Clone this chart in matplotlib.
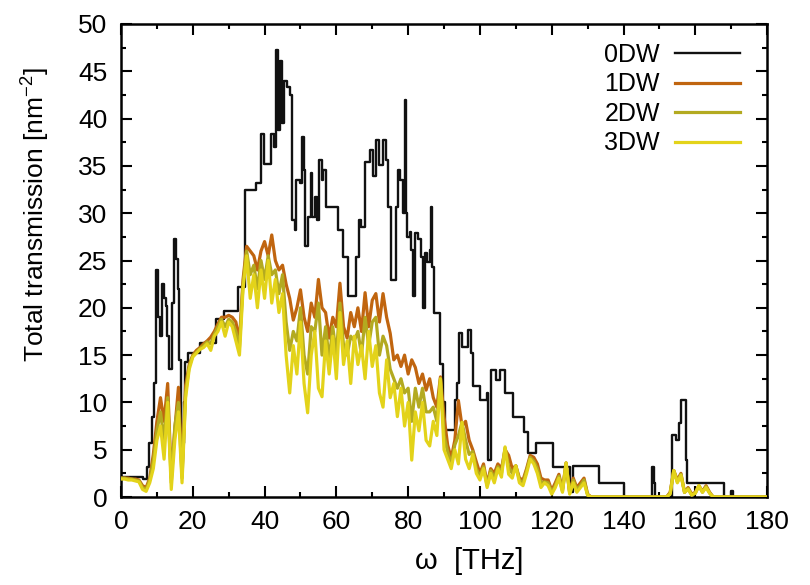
import numpy as np
import matplotlib
matplotlib.use("Agg")
import matplotlib.pyplot as plt
from matplotlib.ticker import MultipleLocator

plt.rcParams['font.family'] = ['Liberation Sans', 'DejaVu Sans']
plt.rcParams['mathtext.fontset'] = 'custom'
plt.rcParams['mathtext.rm'] = 'Liberation Sans'

# ---- 0DW: step-wise transmission (segment start frequency, value) ----
w_0dw = [0.0, 6.0, 7.2, 7.8, 8.6, 9.3, 9.7, 10.3, 10.8, 11.3, 11.9, 12.4, 12.9, 13.4,
         14.2, 14.7, 15.3, 15.8, 16.2, 16.8, 17.5, 17.9, 18.7, 21.9, 26.6, 28.8, 32.6,
         34.5, 37.5, 38.9, 39.7, 41.7, 42.6, 43.1, 43.7, 44.3, 44.9, 45.4, 46.3, 47.0,
         47.6, 48.5, 48.8, 49.8, 50.4, 51.0, 51.4, 52.1, 52.8, 53.3, 54.0, 54.6, 55.1,
         55.9, 56.4, 57.0, 60.5, 61.9, 63.3, 65.6, 66.3, 67.0, 68.0, 69.4, 70.1, 71.0,
         72.0, 72.9, 73.8, 74.5, 75.3, 76.6, 77.1, 77.8, 78.5, 79.0, 79.3, 79.8, 80.4,
         80.9, 81.3, 81.8, 82.7, 83.6, 84.1, 84.6, 85.3, 86.0, 86.4, 86.7, 87.2, 88.8,
         89.8, 90.3, 93.0, 93.5, 94.1, 94.9, 95.8, 96.8, 97.5, 98.1, 100.0, 101.9, 102.3,
         103.1, 104.6, 105.6, 107.0, 109.3, 112.3, 113.3, 115.6, 120.3, 125.0, 125.8,
         133.2, 140.0, 147.9, 148.4, 148.9, 153.6, 154.6, 155.4, 156.1, 157.3, 157.8,
         168.0, 170.0, 170.4, 180.0]
t_0dw = [2.1, 1.9, 3.2, 5.7, 8.5, 12.0, 24.0, 19.0, 17.0, 22.5, 21.0, 20.2, 17.0, 13.5,
         20.5, 27.3, 25.2, 22.0, 14.5, 5.7, 10.0, 14.3, 15.2, 16.3, 18.8, 19.7, 22.2,
         32.5, 33.2, 38.4, 35.2, 38.4, 37.0, 47.3, 38.8, 46.1, 39.5, 44.0, 43.3, 42.5,
         29.3, 28.2, 33.5, 33.2, 38.1, 34.6, 26.5, 29.6, 34.2, 29.6, 31.7, 29.3, 35.6,
         33.5, 34.6, 30.7, 28.2, 25.4, 21.2, 25.4, 29.3, 28.5, 35.4, 36.7, 33.9, 37.7,
         35.1, 37.7, 35.6, 30.7, 22.9, 30.7, 34.6, 33.5, 30.0, 42.0, 30.0, 27.5, 28.0,
         26.1, 21.2, 27.9, 27.3, 25.4, 20.0, 25.8, 24.8, 26.1, 30.7, 24.3, 19.4, 14.1,
         10.0, 7.1, 10.3, 12.0, 17.3, 15.9, 15.9, 17.7, 15.2, 11.7, 10.3, 11.0, 3.9,
         13.4, 12.4, 13.4, 11.0, 8.5, 6.9, 4.6, 5.7, 3.2, 0.5, 3.3,
         1.45, 0.0, 3.2, 1.5, 0.0, 6.6, 6.0, 7.8, 10.3, 3.9, 1.5,
         0.0, 0.6, 0.0, 0.0]

# ---- 1DW, 2DW, 3DW: sampled every 1 THz from 0 to 180 ----
w_dw = np.arange(0, 181, 1.0)

t_1dw = [2.0, 2.0, 2.0, 1.9, 1.9, 1.8, 1.2, 1.0, 2.0, 4.5,
         8.0, 10.5, 8.0, 12.0, 2.0, 7.2, 11.6, 2.5, 11.8, 14.0,
         15.0, 15.5, 15.8, 16.2, 16.5, 16.9, 17.5, 18.3, 19.0, 19.0,
         19.2, 19.0, 18.5, 16.5, 23.0, 26.5, 26.0, 25.5, 24.0, 26.0,
         27.0, 25.5, 27.7, 25.0, 24.0, 24.5, 22.5, 21.0, 18.7, 20.0,
         21.9, 19.0, 17.5, 20.5, 19.0, 23.0, 20.0, 19.5, 16.8, 19.0,
         18.0, 22.6, 18.0, 16.8, 19.5, 18.0, 20.0, 17.5, 21.6, 18.0,
         20.8, 21.5, 18.5, 21.5, 19.0, 17.3, 14.5, 15.0, 13.8, 15.0,
         13.0, 14.5, 13.7, 12.0, 13.0, 11.3, 12.5, 10.5, 9.5, 12.7,
         8.5, 5.5, 4.1, 6.0, 10.2, 7.5, 8.0, 6.0, 5.0, 3.7,
         2.5, 3.5, 1.4, 3.0, 2.5, 3.5, 3.0, 5.0, 4.4, 3.0,
         3.3, 2.0, 1.8, 3.0, 4.4, 4.2, 3.5, 2.0, 1.8, 1.8,
         0.7, 1.5, 2.4, 0.8, 3.6, 0.5, 2.0, 1.0, 1.5, 2.0,
         0.3, 0.0, 0.0, 0.0, 0.0, 0.0, 0.0, 0.0, 0.0, 0.0,
         0.0, 0.0, 0.0, 0.0, 0.0, 0.0, 0.0, 0.0, 0.0, 0.0,
         0.0, 0.0, 0.0, 0.5, 2.8, 1.8, 2.5, 0.5, 1.0, 0.3,
         0.5, 1.2, 0.6, 1.2, 0.5, 0.0, 0.0, 0.0, 0.0, 0.0,
         0.0, 0.0, 0.0, 0.0, 0.0, 0.0, 0.0, 0.0, 0.0, 0.0,
         0.0]

t_2dw = [2.0, 2.0, 1.9, 1.9, 1.8, 1.7, 1.0, 0.8, 1.8, 3.8,
         7.0, 9.0, 6.0, 10.5, 1.5, 7.5, 10.0, 2.0, 11.0, 13.8,
         14.9, 15.3, 15.7, 16.0, 16.4, 16.2, 17.2, 18.0, 18.8, 18.0,
         18.8, 18.5, 17.5, 15.8, 22.5, 26.0, 23.5, 24.5, 22.0, 25.0,
         23.0, 25.5, 23.5, 24.0, 21.5, 23.5, 18.5, 15.5, 17.5, 16.5,
         20.0, 15.0, 13.0, 18.0, 17.5, 20.5, 15.0, 18.0, 14.5, 18.0,
         15.0, 20.5, 16.0, 15.0, 17.0, 16.5, 17.5, 15.0, 19.0, 16.0,
         18.5, 19.0, 15.0, 17.0, 16.0, 13.5, 12.5, 11.5, 12.5, 11.0,
         11.5, 8.0, 11.5, 9.5, 11.5, 9.0, 9.0, 9.5, 8.0, 12.5,
         6.5, 4.8, 3.5, 5.5, 6.5, 7.9, 6.0, 4.5, 4.8, 3.0,
         2.2, 3.2, 1.2, 2.8, 2.0, 3.2, 2.5, 5.2, 3.2, 2.5,
         3.3, 1.8, 1.5, 2.8, 4.2, 3.8, 3.0, 1.5, 1.6, 1.5,
         0.5, 1.2, 2.2, 0.6, 3.6, 0.4, 1.8, 0.8, 1.2, 1.8,
         0.2, 0.0, 0.0, 0.0, 0.0, 0.0, 0.0, 0.0, 0.0, 0.0,
         0.0, 0.0, 0.0, 0.0, 0.0, 0.0, 0.0, 0.0, 0.0, 0.0,
         0.0, 0.0, 0.0, 0.4, 2.8, 1.6, 2.4, 0.5, 0.9, 0.2,
         0.4, 1.2, 0.5, 1.1, 0.4, 0.0, 0.0, 0.0, 0.0, 0.0,
         0.0, 0.0, 0.0, 0.0, 0.0, 0.0, 0.0, 0.0, 0.0, 0.0,
         0.0]

t_3dw = [1.9, 1.9, 1.8, 1.8, 1.7, 1.6, 0.8, 0.6, 1.5, 3.0,
         6.0, 7.5, 4.0, 10.0, 0.8, 6.0, 9.0, 1.5, 10.5, 13.5,
         14.8, 15.2, 15.6, 15.8, 16.2, 15.5, 17.0, 17.5, 18.5, 17.0,
         18.5, 18.0, 16.5, 15.0, 22.0, 25.5, 21.0, 23.5, 20.0, 24.0,
         21.0, 25.0, 20.5, 23.0, 19.5, 21.5, 15.0, 11.0, 16.0, 13.0,
         18.5, 12.0, 8.9, 15.0, 17.5, 11.5, 10.6, 16.5, 13.0, 17.0,
         12.5, 19.5, 14.0, 16.5, 12.0, 17.0, 14.0, 16.0, 12.5, 17.5,
         13.8, 16.0, 11.0, 9.5, 14.5, 10.5, 12.0, 8.5, 11.5, 7.5,
         10.0, 3.9, 9.0, 7.0, 10.0, 6.0, 5.4, 8.0, 6.5, 12.5,
         5.0, 4.0, 3.0, 5.0, 3.5, 7.9, 4.0, 3.0, 4.5, 2.5,
         1.8, 3.0, 1.0, 2.5, 1.5, 3.0, 2.1, 5.3, 2.4, 2.0,
         3.3, 1.5, 1.2, 2.5, 4.0, 3.5, 2.5, 1.0, 1.5, 1.2,
         0.3, 1.0, 2.0, 0.5, 3.6, 0.3, 1.5, 0.5, 1.0, 1.5,
         0.2, 0.0, 0.0, 0.0, 0.0, 0.0, 0.0, 0.0, 0.0, 0.0,
         0.0, 0.0, 0.0, 0.0, 0.0, 0.0, 0.0, 0.0, 0.0, 0.0,
         0.0, 0.0, 0.0, 0.3, 2.8, 1.5, 2.3, 0.5, 0.8, 0.2,
         0.4, 1.2, 0.5, 1.0, 0.4, 0.0, 0.0, 0.0, 0.0, 0.0,
         0.0, 0.0, 0.0, 0.0, 0.0, 0.0, 0.0, 0.0, 0.0, 0.0,
         0.0]

labels = ["0DW", "1DW", "2DW", "3DW"]
colors = ["#111111", "#c0650f", "#b3aa20", "#e3d31a"]

fig = plt.figure(figsize=(8.1, 5.85), dpi=100)
ax = fig.add_axes([0.1494, 0.1504, 0.7976, 0.8086])

ax.step(w_0dw, t_0dw, where='post', color=colors[0], lw=1.7, label=labels[0], zorder=2)
ax.plot(w_dw, t_1dw, color=colors[1], lw=2.3, label=labels[1], zorder=3)
ax.plot(w_dw, t_2dw, color=colors[2], lw=2.3, label=labels[2], zorder=4)
ax.plot(w_dw, t_3dw, color=colors[3], lw=2.3, label=labels[3], zorder=5)

ax.set_xlim(0, 180)
ax.set_ylim(0, 50)
ax.xaxis.set_major_locator(MultipleLocator(20))
ax.xaxis.set_minor_locator(MultipleLocator(10))
ax.yaxis.set_major_locator(MultipleLocator(5))
ax.yaxis.set_minor_locator(MultipleLocator(2.5))
ax.tick_params(which='both', direction='in', top=True, right=True, width=1.5,
               labelsize=19, colors='black')
ax.tick_params(which='major', length=8)
ax.tick_params(which='minor', length=3.5)
ax.tick_params(axis='x', which='major', pad=9)
ax.tick_params(axis='y', which='major', pad=10)
for s in ax.spines.values():
    s.set_linewidth(1.8)

ax.set_xlabel("ω  [THz]", fontsize=21)
ax.xaxis.set_label_coords(0.539, -0.105)
ax.set_ylabel(r"Total transmission [nm$^{-2}$]", fontsize=19)
ax.yaxis.set_label_coords(-0.108, 0.598)

ax.legend(loc='upper right', frameon=False, markerfirst=False, fontsize=18,
          handlelength=2.6, handletextpad=0.6, labelspacing=0.22,
          borderpad=0.0, borderaxespad=0.0, bbox_to_anchor=(0.958, 0.96))

fig.savefig("out.png", dpi=100)
